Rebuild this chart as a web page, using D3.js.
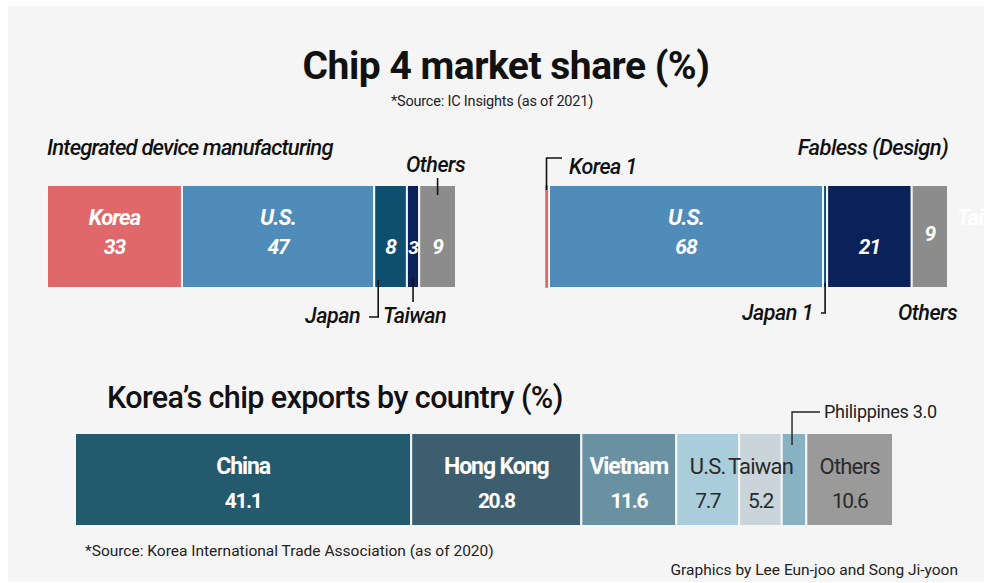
<!DOCTYPE html>
<html>
<head>
<meta charset="utf-8">
<script src="https://cdn.jsdelivr.net/npm/d3@7"></script>
<style>
  body { margin: 0; background: #fff; }
  svg { display: block; font-family: Roboto, "Noto Sans", sans-serif; }
</style>
</head>
<body>
<svg id="chart" width="984" height="583"></svg>
<script>
// data
const chipCountries = ["Korea", "U.S.", "Japan", "Taiwan", "Others"];
const idmShares = [33, 47, 8, 3, 9];
const fablessShares = [1, 68, 1, 21, 9];
const chipColors = ["#e0686a", "#4f8cba", "#0e4f70", "#0b2159", "#8c8c8c"];

const exportCountries = ["China", "Hong Kong", "Vietnam", "U.S.", "Taiwan", "Philippines", "Others"];
const exportShares = [41.1, 20.8, 11.6, 7.7, 5.2, 3.0, 10.6];
const exportColors = ["#235a6e", "#3c5e6e", "#6a91a1", "#a9cddb", "#c9d5db", "#88b1c2", "#9a9a9a"];
const exportDark = [false, false, false, true, true, true, true];

const svg = d3.select("#chart");

// panel background
svg.append("rect").attr("x", 8).attr("y", 6).attr("width", 976).attr("height", 576).attr("fill", "#f5f5f5");

// stacks cumulative values
function stackUp(vals) {
  let c = 0;
  return vals.map((v, i) => { let d = {i: i, v: v, x0: c, x1: c + v}; c += v; return d; });
}

function drawBar(g, data, x, y0, y1, colors) {
  g.selectAll("rect.seg")
    .data(data)
    .enter().append("rect")
    .attr("class", "seg")
    .attr("x", d => x(d.x0))
    .attr("y", y0)
    .attr("width", d => Math.max(x(d.x1) - x(d.x0), 1))
    .attr("height", y1 - y0)
    .attr("fill", d => colors[d.i])
    .attr("stroke", "#f5f5f5")
    .attr("stroke-width", 2);
}

// title
svg.append("text").attr("x", 506).attr("y", 79).attr("text-anchor", "middle")
  .attr("font-size", 39).attr("font-weight", 700).attr("fill", "#111").attr("letter-spacing", -0.5)
  .text("Chip 4 market share (%)");
svg.append("text").attr("x", 492).attr("y", 106).attr("text-anchor", "middle")
  .attr("font-size", 14.5).attr("fill", "#222").attr("letter-spacing", -0.2)
  .text("*Source: IC Insights (as of 2021)");

const barTop = 185, barBot = 288;

// --- Integrated device manufacturing
const xIdm = d3.scaleLinear().domain([0, 100]).range([47, 456]);
const idm = svg.append("g");
const idmData = stackUp(idmShares);
drawBar(idm, idmData, xIdm, barTop, barBot, chipColors);

idm.append("text").attr("x", 47).attr("y", 155).attr("font-size", 22).attr("font-style", "italic")
  .attr("font-weight", 500).attr("fill", "#111").attr("letter-spacing", -0.8)
  .text("Integrated device manufacturing");

const mid = d => xIdm((d.x0 + d.x1) / 2);
// big labels
idm.selectAll("text.name").data(idmData.slice(0, 2)).enter().append("text")
  .attr("x", d => mid(d)).attr("y", 225).attr("text-anchor", "middle")
  .attr("font-size", 22).attr("font-style", "italic").attr("font-weight", 700).attr("fill", "#fff")
  .attr("letter-spacing", -0.9)
  .text(d => chipCountries[d.i]);
idm.selectAll("text.val").data(idmData).enter().append("text")
  .attr("x", d => mid(d)).attr("y", 254).attr("text-anchor", "middle")
  .attr("font-size", d => d.v < 5 ? 19 : 21).attr("font-style", "italic").attr("font-weight", 700).attr("fill", "#fff")
  .attr("letter-spacing", -1)
  .text(d => d.v);

// callouts
const lineStyle = sel => sel.attr("fill", "none").attr("stroke", "#111").attr("stroke-width", 1.6);
const calloutFont = sel => sel.attr("font-size", 21.5).attr("font-style", "italic").attr("font-weight", 500)
  .attr("fill", "#111").attr("letter-spacing", -0.5);

let jx = xIdm(idmData[2].x0) + 4;
idm.append("path").attr("d", `M${jx},${barBot - 8}V317H369`).call(lineStyle);
idm.append("text").attr("x", 360).attr("y", 323).attr("text-anchor", "end").text("Japan").call(calloutFont);
let tx = mid(idmData[3]);
idm.append("path").attr("d", `M${tx},${barBot - 10}V302`).call(lineStyle);
idm.append("text").attr("x", 383).attr("y", 323).text("Taiwan").call(calloutFont);
let ox = mid(idmData[4]);
idm.append("path").attr("d", `M${ox},178V195`).call(lineStyle);
idm.append("text").attr("x", 406).attr("y", 172).text("Others").call(calloutFont);

// --- Fabless
const xFab = d3.scaleLinear().domain([0, 100]).range([545, 948]);
const fab = svg.append("g");
const fabData = stackUp(fablessShares);
drawBar(fab, fabData, xFab, barTop, barBot, chipColors);
fab.selectAll("rect.seg").filter(d => d.i === 0).attr("stroke-width", 0.5);

const fmid = d => xFab((d.x0 + d.x1) / 2);
fab.append("text").attr("x", 948).attr("y", 155).attr("text-anchor", "end").attr("font-size", 22)
  .attr("font-style", "italic").attr("font-weight", 500).attr("fill", "#111").attr("letter-spacing", -0.6)
  .text("Fabless (Design)");
fab.append("text").attr("x", fmid(fabData[1])).attr("y", 225).attr("text-anchor", "middle")
  .attr("font-size", 22).attr("font-style", "italic").attr("font-weight", 700).attr("fill", "#fff")
  .attr("letter-spacing", -0.9).text(chipCountries[1]);
fab.selectAll("text.val").data([fabData[1], fabData[3], fabData[4]]).enter().append("text")
  .attr("x", d => fmid(d)).attr("y", d => d.i === 4 ? 241 : 254)
  .attr("text-anchor", "middle")
  .attr("font-size", 21).attr("font-style", "italic").attr("font-weight", 700).attr("fill", "#fff")
  .attr("letter-spacing", -1)
  .text(d => d.v);
// faint white Taiwan label running off the page
fab.append("text").attr("x", 957).attr("y", 225).attr("font-size", 22).attr("font-style", "italic")
  .attr("font-weight", 700).attr("fill", "#fff").attr("letter-spacing", -0.9).text(chipCountries[3]);

let kx = xFab(fabData[0].x0) + 1.5;
fab.append("path").attr("d", `M${kx},${barTop + 5}V158H562`).call(lineStyle);
fab.append("text").attr("x", 569).attr("y", 174).text("Korea 1").call(calloutFont);
let jfx = fmid(fabData[2]);
fab.append("path").attr("d", `M${jfx},${barBot - 5}V313H821`).call(lineStyle);
fab.append("text").attr("x", 813).attr("y", 320).attr("text-anchor", "end").text("Japan 1").call(calloutFont);
fab.append("text").attr("x", 898).attr("y", 320).text("Others").call(calloutFont);

// --- Korea's chip exports
svg.append("text").attr("x", 107).attr("y", 408).attr("font-size", 30.5).attr("font-weight", 500)
  .attr("fill", "#111").attr("letter-spacing", -0.6)
  .text("Korea\u2019s chip exports by country (%)");

const xExp = d3.scaleLinear().domain([0, 100]).range([75, 893]);
const ex = svg.append("g");
const exData = stackUp(exportShares);
const exTop = 433, exBot = 526;
drawBar(ex, exData, xExp, exTop, exBot, exportColors);
const emid = d => xExp((d.x0 + d.x1) / 2);

const shownEx = exData.filter(d => exportCountries[d.i] !== "Philippines");
ex.selectAll("text.name").data(shownEx).enter().append("text")
  .attr("x", d => emid(d)).attr("y", 474).attr("text-anchor", "middle")
  .attr("font-size", d => exportDark[d.i] ? 22 : 23)
  .attr("font-weight", d => exportDark[d.i] ? 400 : 700)
  .attr("fill", d => exportDark[d.i] ? "#2a2a2a" : "#fff")
  .attr("letter-spacing", d => exportDark[d.i] ? -0.8 : -1.1)
  .text(d => exportCountries[d.i]);
ex.selectAll("text.val").data(shownEx).enter().append("text")
  .attr("x", d => emid(d)).attr("y", 508).attr("text-anchor", "middle")
  .attr("font-size", 21)
  .attr("font-weight", d => exportDark[d.i] ? 400 : 700)
  .attr("fill", d => exportDark[d.i] ? "#2a2a2a" : "#fff")
  .attr("letter-spacing", -1.4)
  .text(d => d3.format(".1f")(d.v));

let px = emid(exData[5]) - 2;
ex.append("path").attr("d", `M${px},445V412H820`).attr("fill", "none").attr("stroke", "#222").attr("stroke-width", 1.4);
ex.append("text").attr("x", 824).attr("y", 418).attr("font-size", 18).attr("fill", "#222")
  .attr("letter-spacing", -0.3).text(exportCountries[5] + " " + d3.format(".1f")(exportShares[5]));

// footer
svg.append("text").attr("x", 85).attr("y", 556).attr("font-size", 15.5).attr("fill", "#222")
  .attr("letter-spacing", 0).text("*Source: Korea International Trade Association (as of 2020)");
svg.append("text").attr("x", 958).attr("y", 575).attr("text-anchor", "end").attr("font-size", 15.5)
  .attr("fill", "#222").attr("letter-spacing", 0).text("Graphics by Lee Eun-joo and Song Ji-yoon");
</script>
</body>
</html>
